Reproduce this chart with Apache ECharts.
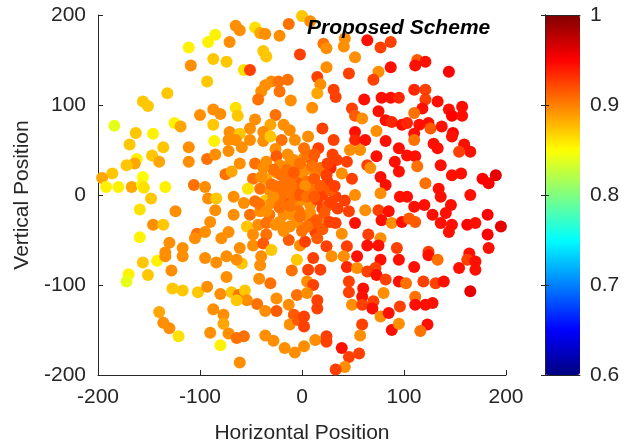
<!DOCTYPE html>
<html><head><meta charset="utf-8">
<script src="https://cdn.jsdelivr.net/npm/echarts@6/dist/echarts.min.js"></script>
<style>html,body{margin:0;padding:0;background:#fff}#c{width:639px;height:447px}</style>
</head><body><div id="c"></div>
<script>
const xTicks = [-200, -100, 0, 100, 200];
const yTicks = [-200, -100, 0, 100, 200];
const colorTicks = [0.6, 0.7, 0.8, 0.9, 1];
const jetColors = ['#000080','#0000FF','#0080FF','#00FFFF','#80FF80','#FFFF00','#FF8000','#FF0000','#800000'];
const chartTitle = 'Proposed Scheme';
// [horizontal, vertical, value]
const points = [
[-111,164,0.855],[-109,144,0.894],[-132,113,0.872],[-156,104,0.872],[-151,99,0.872],[-184,77,0.84],[-163,69,0.872],[-146,68,0.855],[-125,80,0.855],[-119,76,0.885],[-100,89,0.894],
[-85,178,0.855],[-92,170,0.855],[-65,188,0.894],[-61,183,0.894],[-46,186,0.862],[-41,180,0.885],[-36,179,0.894],[-22,177,0.894],[-13,190,0.906],[-71,170,0.894],[-87,151,0.872],[-74,148,0.872],[-38,160,0.872],[-35,154,0.872],[-57,139,0.862],[-51,139,0.925],[-93,126,0.872],[-2,156,0.925],[-36,122,0.894],[-30,126,0.894],[-23,126,0.906],[-14,128,0.906],[-40,115,0.894],[-22,115,0.906],[-43,106,0.906],[-11,105,0.894],[-87,95,0.894],[-80,90,0.894],[-65,97,0.862],[-63,88,0.872],[-87,78,0.872],[-46,84,0.894],[-26,89,0.906],[-18,78,0.894],[-31,78,0.885],[-51,74,0.894],[-71,70,0.894],[-61,68,0.872],[-38,70,0.894],[-12,72,0.894],
[0,199,0.872],[8,193,0.894],[21,168,0.906],[24,163,0.894],[42,174,0.894],[41,165,0.894],[64,172,0.944],[77,164,0.925],[87,170,0.925],[52,153,0.894],[24,142,0.894],[46,135,0.925],[75,137,0.894],[70,128,0.925],[87,142,0.944],[15,131,0.925],[18,123,0.894],[31,117,0.925],[15,113,0.885],[33,109,0.925],[10,97,0.894],[61,106,0.944],[78,108,0.944],[87,108,0.944],[95,108,0.935],[49,96,0.925],[52,88,0.915],[59,85,0.894],[75,93,0.944],[82,83,0.944],[88,81,0.935],[98,78,0.944],[20,74,0.925],[52,70,0.944],[73,71,0.894],
[113,150,0.915],[121,148,0.944],[111,144,0.944],[144,137,0.95],[110,117,0.935],[121,117,0.925],[121,106,0.925],[133,104,0.944],[118,96,0.944],[110,91,0.906],[144,95,0.944],[157,98,0.944],[147,88,0.95],[157,88,0.944],[103,80,0.935],[115,78,0.944],[124,80,0.944],[126,74,0.915],[137,76,0.944],[148,69,0.95],[110,68,0.944],
[-169,56,0.872],[-136,53,0.872],[-147,44,0.872],[-162,40,0.855],[-164,35,0.885],[-172,33,0.872],[-140,37,0.885],[-111,53,0.894],[-111,37,0.894],[-186,24,0.872],[-196,19,0.885],[-192,9,0.855],[-180,9,0.855],[-167,9,0.885],[-156,20,0.85],[-157,11,0.855],[-155,8,0.862],[-134,9,0.855],[-106,11,0.906],[-148,-4,0.872],[-159,-16,0.862],[-124,-18,0.894],[-146,-33,0.894],[-136,-33,0.872],[-159,-47,0.855],[-130,-53,0.894],[-117,-59,0.894],[-134,-64,0.894],[-103,-43,0.906],[-105,-48,0.894],
[-86,60,0.855],[-72,61,0.894],[-65,61,0.894],[-51,61,0.894],[-38,60,0.894],[-31,65,0.872],[-20,61,0.906],[-7,61,0.894],[-72,49,0.894],[-59,53,0.894],[-26,51,0.894],[-93,40,0.906],[-85,45,0.894],[-61,35,0.894],[-46,35,0.906],[-35,37,0.894],[-25,43,0.915],[-22,33,0.894],[-8,39,0.894],[-75,23,0.906],[-69,26,0.885],[-48,18,0.906],[-35,18,0.885],[-53,7,0.862],[-41,7,0.906],[-31,4,0.894],[-18,11,0.906],[-12,4,0.894],[-5,15,0.915],[-95,9,0.894],[-92,-4,0.894],[-84,-4,0.872],[-67,-2,0.894],[-57,-9,0.894],[-46,-7,0.906],[-36,-6,0.872],[-30,-9,0.894],[-15,-9,0.915],[-5,-11,0.894],[-85,-17,0.894],[-67,-22,0.894],[-51,-22,0.906],[-41,-18,0.894],[-18,-22,0.894],[-90,-30,0.894],[-95,-41,0.894],[-54,-35,0.872],[-43,-33,0.894],[-35,-31,0.906],[-26,-33,0.894],[-12,-35,0.894],[-72,-41,0.894],[-48,-44,0.894],[-35,-44,0.906],[-13,-50,0.915],[-79,-48,0.894],[-61,-59,0.894],[-48,-56,0.894],[-38,-54,0.915],[-30,-61,0.872],[-2,-56,0.894],
[6,65,0.894],[16,52,0.925],[31,61,0.925],[52,61,0.935],[62,61,0.944],[82,60,0.944],[47,50,0.894],[57,50,0.894],[73,43,0.944],[95,52,0.944],[2,41,0.894],[10,39,0.915],[34,39,0.925],[44,37,0.925],[64,33,0.925],[67,30,0.894],[91,37,0.944],[28,30,0.935],[3,28,0.894],[13,24,0.894],[39,24,0.894],[49,18,0.925],[77,20,0.944],[82,11,0.944],[95,26,0.944],[6,11,0.894],[20,9,0.915],[33,-2,0.925],[42,-6,0.925],[52,0,0.894],[77,2,0.894],[96,-2,0.944],[8,-11,0.894],[20,-15,0.925],[46,-18,0.925],[62,-17,0.894],[75,-17,0.925],[85,-18,0.944],[6,-24,0.894],[20,-26,0.894],[33,-31,0.925],[52,-31,0.944],[78,-28,0.944],[88,-31,0.894],[98,-30,0.944],[13,-41,0.925],[39,-43,0.894],[65,-44,0.925],[77,-48,0.894],[3,-52,0.925],[24,-57,0.925],[44,-57,0.925],[64,-56,0.944],[75,-56,0.944],[93,-59,0.925],
[110,61,0.906],[129,57,0.944],[133,52,0.944],[147,65,0.944],[159,56,0.944],[165,48,0.944],[154,48,0.925],[103,44,0.944],[111,43,0.944],[113,32,0.906],[136,33,0.944],[147,22,0.944],[156,24,0.944],[177,18,0.95],[183,13,0.95],[190,22,0.96],[121,13,0.906],[134,7,0.944],[136,-2,0.944],[165,0,0.944],[103,-2,0.944],[110,-13,0.944],[120,-11,0.944],[146,-11,0.944],[141,-20,0.944],[128,-22,0.944],[182,-22,0.95],[105,-26,0.915],[111,-30,0.915],[136,-31,0.944],[147,-33,0.944],[162,-33,0.95],[170,-31,0.944],[144,-41,0.944],[182,-44,0.95],[195,-35,0.96],[124,-63,0.925],[183,-59,0.944],[164,-65,0.944],
[-156,-75,0.872],[-142,-73,0.855],[-134,-68,0.894],[-117,-68,0.894],[-170,-88,0.855],[-172,-96,0.84],[-151,-89,0.872],[-128,-84,0.894],[-127,-104,0.872],[-117,-106,0.872],[-102,-108,0.872],[-140,-130,0.885],[-136,-142,0.894],[-130,-148,0.894],[-121,-157,0.862],
[-95,-70,0.894],[-84,-75,0.894],[-74,-68,0.894],[-59,-76,0.872],[-64,-72,0.894],[-40,-68,0.894],[-41,-78,0.894],[-5,-72,0.872],[-10,-84,0.906],[-74,-91,0.894],[-42,-93,0.894],[-31,-98,0.906],[-93,-102,0.894],[-80,-110,0.894],[-69,-108,0.872],[-62,-111,0.906],[-56,-106,0.872],[-54,-117,0.894],[-64,-117,0.872],[-44,-121,0.906],[-36,-129,0.894],[-25,-115,0.894],[-25,-129,0.915],[-13,-122,0.894],[-5,-111,0.906],[-8,-133,0.915],[-12,-144,0.894],[-4,-139,0.915],[-87,-127,0.894],[-77,-133,0.894],[-77,-143,0.885],[-72,-154,0.894],[-90,-153,0.894],[-80,-167,0.855],[-64,-159,0.906],[-57,-157,0.906],[-36,-156,0.894],[-28,-162,0.894],[-17,-170,0.894],[-7,-175,0.894],[-61,-186,0.894],
[11,-70,0.925],[29,-68,0.894],[41,-68,0.894],[54,-68,0.944],[77,-72,0.944],[95,-72,0.944],[6,-83,0.925],[18,-83,0.925],[44,-80,0.935],[54,-81,0.894],[64,-85,0.925],[72,-81,0.925],[73,-89,0.944],[82,-94,0.925],[95,-96,0.944],[5,-96,0.894],[11,-100,0.925],[46,-96,0.925],[46,-108,0.925],[60,-104,0.944],[59,-113,0.944],[5,-109,0.894],[15,-117,0.925],[15,-126,0.925],[49,-122,0.894],[59,-122,0.925],[70,-118,0.925],[69,-126,0.944],[80,-109,0.894],[77,-135,0.894],[85,-131,0.944],[96,-124,0.925],[2,-135,0.925],[2,-146,0.925],[2,-168,0.894],[13,-161,0.894],[24,-157,0.925],[24,-163,0.925],[59,-144,0.925],[57,-156,0.894],[88,-150,0.944],[95,-143,0.894],[39,-170,0.944],[46,-180,0.925],[56,-176,0.925],[42,-191,0.894],[33,-194,0.925],
[124,-67,0.944],[133,-72,0.906],[162,-72,0.925],[170,-74,0.944],[154,-81,0.944],[170,-83,0.944],[110,-80,0.944],[102,-98,0.906],[119,-96,0.925],[131,-98,0.925],[139,-96,0.944],[165,-107,0.96],[111,-113,0.906],[111,-122,0.944],[121,-122,0.944],[128,-120,0.944],[123,-144,0.944],[116,-151,0.906],
[-10,20,0.906],[0,25,0.894],[5,15,0.906],[-5,5,0.915],[10,5,0.906],[0,-5,0.894],[-8,-2,0.906],[15,-5,0.925],[3,10,0.894],[-15,15,0.906],[12,18,0.915],[-3,-18,0.906],[8,-20,0.894],[20,0,0.925],[-20,0,0.906],[25,15,0.925],[-25,25,0.894],[18,30,0.906],[-12,35,0.894],[5,45,0.906],[-5,-30,0.894],
[-28,28,0.906],[-38,30,0.894],[-20,22,0.906],[-30,12,0.906],[-22,-5,0.906],[-10,-22,0.894],[0,-40,0.906],[10,-32,0.915],[25,-12,0.915],[28,5,0.915],[-2,35,0.906],[10,32,0.906],[-42,-10,0.906],[-32,-22,0.906],[-18,-40,0.894],[15,-48,0.915],
[-15,28,0.906],[-8,25,0.915],[-18,5,0.906],[-10,10,0.906],[-2,0,0.915],[5,-2,0.906],[12,-2,0.915],[18,10,0.915],[24,22,0.925],[28,-8,0.925],[22,-20,0.915],[14,-28,0.915],[-2,-24,0.906],[-12,-12,0.906],[-22,-14,0.906],[-28,-2,0.894],[-26,10,0.906],[-14,45,0.894],[2,52,0.906],[12,45,0.915],[25,35,0.925],[30,45,0.925],[32,10,0.925],[-40,20,0.894],[-35,-18,0.894],[-22,-30,0.894],[5,-35,0.906],[20,-38,0.915],[27,-30,0.925],[35,-15,0.925]
];

const font = '"Liberation Sans", Arial, Helvetica, sans-serif';
const ink = '#262626';
const chart = echarts.init(document.getElementById('c'), null, {renderer: 'canvas'});
const axisCommon = {
  axisLine: {show: true, onZero: false, lineStyle: {color: ink, width: 1}},
  axisTick: {show: true, inside: true, length: 5, lineStyle: {color: ink}},
  axisLabel: {color: ink, fontSize: 21, fontFamily: font},
  splitLine: {show: false},
  nameTextStyle: {color: ink, fontSize: 21, fontFamily: font}
};
chart.setOption({
  animation: false,
  backgroundColor: '#fff',
  title: {text: chartTitle, left: 307, top: 18, padding: 0,
    textStyle: {fontSize: 21, fontWeight: 'bold', fontStyle: 'italic', color: '#000', fontFamily: font}},
  grid: [
    {left: 98, top: 15, width: 408, height: 360, outerBoundsMode: 'none', containLabel: false},
    {left: 545, top: 15, width: 35, height: 360, outerBoundsMode: 'none', containLabel: false}
  ],
  xAxis: [
    Object.assign({}, axisCommon, {gridIndex: 0, type: 'value', min: xTicks[0], max: xTicks[xTicks.length-1],
      interval: xTicks[1]-xTicks[0], name: 'Horizontal Position', nameLocation: 'middle', nameGap: 48,
      axisLabel: Object.assign({}, axisCommon.axisLabel, {margin: 12})}),
    {gridIndex: 1, type: 'value', min: 0, max: 1, position: 'bottom', z: 10,
      axisLine: {show: true, lineStyle: {color: ink}}, axisTick: {show: false}, axisLabel: {show: false}, splitLine: {show: false}},
    {gridIndex: 1, type: 'value', min: 0, max: 1, position: 'top', z: 10,
      axisLine: {show: true, lineStyle: {color: ink}}, axisTick: {show: false}, axisLabel: {show: false}, splitLine: {show: false}}
  ],
  yAxis: [
    Object.assign({}, axisCommon, {gridIndex: 0, type: 'value', min: yTicks[0], max: yTicks[yTicks.length-1],
      interval: yTicks[1]-yTicks[0], name: 'Vertical Position', nameLocation: 'middle', nameGap: 62, nameRotate: 90,
      axisLabel: Object.assign({}, axisCommon.axisLabel, {margin: 12})}),
    {gridIndex: 1, type: 'value', min: colorTicks[0], max: colorTicks[colorTicks.length-1], interval: 0.1, position: 'right', z: 10,
      axisLine: {show: true, lineStyle: {color: ink}}, axisTick: {show: true, inside: true, length: 4, lineStyle: {color: ink}},
      axisLabel: {color: ink, fontSize: 21, fontFamily: font, margin: 10}, splitLine: {show: false}},
    {gridIndex: 1, type: 'value', min: colorTicks[0], max: colorTicks[colorTicks.length-1], interval: 0.1, position: 'left', z: 10,
      axisLine: {show: true, lineStyle: {color: ink}}, axisTick: {show: true, inside: true, length: 4, lineStyle: {color: ink}},
      axisLabel: {show: false}, splitLine: {show: false}}
  ],
  visualMap: {
    type: 'continuous', min: colorTicks[0], max: colorTicks[colorTicks.length-1], dimension: 2, seriesIndex: 0,
    left: 545, top: 15, itemWidth: 35, itemHeight: 360, padding: 0, calculable: false, hoverLink: false,
    text: null, showLabel: false, inRange: {color: jetColors}
  },
  series: [{
    type: 'scatter', xAxisIndex: 0, yAxisIndex: 0, symbol: 'circle', symbolSize: 12,
    itemStyle: {opacity: 1}, data: points
  }]
});
</script></body></html>
